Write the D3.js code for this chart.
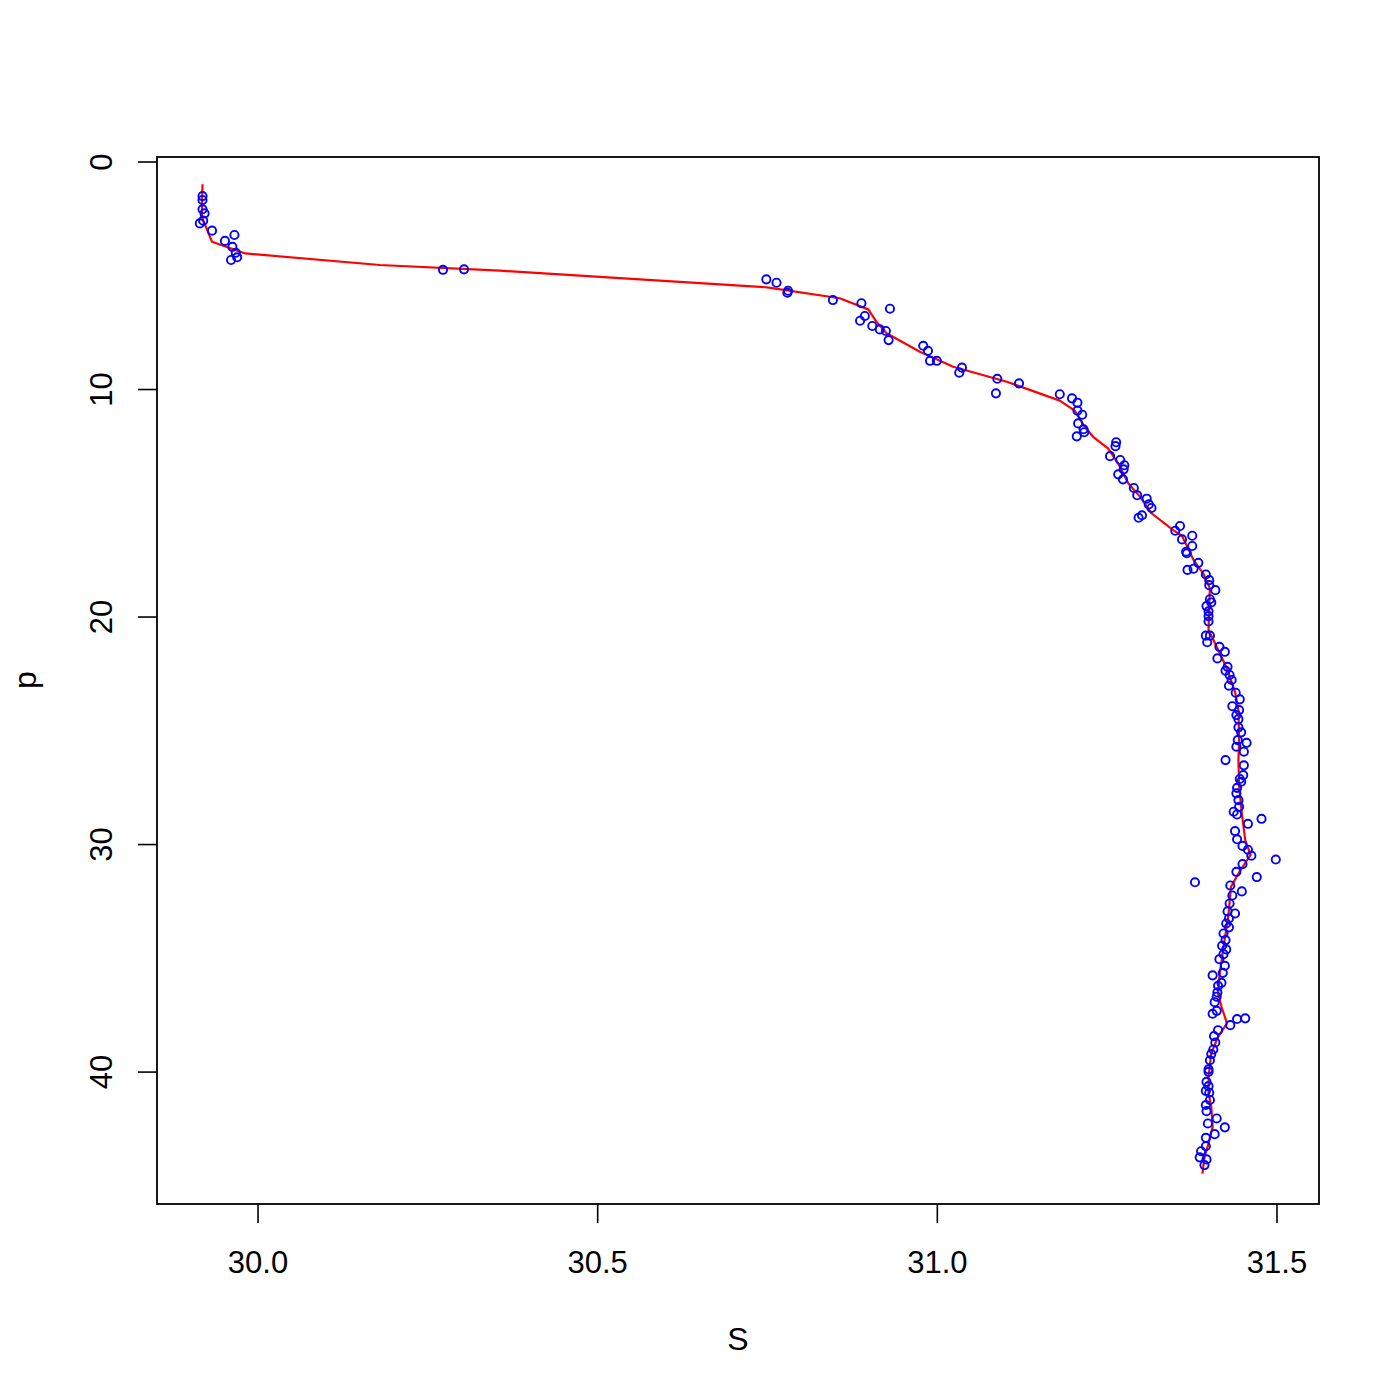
<!DOCTYPE html>
<html>
<head>
<meta charset="utf-8">
<script src="https://cdn.jsdelivr.net/npm/d3@7"></script>
<style>
  body { margin: 0; background: #fff; }
  svg { display: block; }
  text { font-family: "Liberation Sans", Arial, Helvetica, sans-serif; fill: #000; }
</style>
</head>
<body>
<svg id="chart" width="1400" height="1400"></svg>
<script>
// observed salinity (S) and pressure (p)
var obsS = [
    29.919, 29.919, 29.919, 29.922, 29.920, 29.915, 29.933, 29.966, 29.952, 29.963,
    29.968, 29.970, 29.961, 30.273, 30.304, 30.749, 30.764, 30.781, 30.780, 30.847,
    30.889, 30.931, 30.894, 30.887, 30.905, 30.916, 30.925, 30.929, 30.980, 30.987,
    30.990, 31.000, 31.037, 31.033, 31.089, 31.087, 31.121, 31.181, 31.199, 31.207,
    31.207, 31.214, 31.208, 31.216, 31.217, 31.206, 31.264, 31.263, 31.255, 31.270,
    31.276, 31.275, 31.267, 31.274, 31.290, 31.295, 31.309, 31.312, 31.316, 31.302,
    31.297, 31.358, 31.351, 31.376, 31.361, 31.376, 31.367, 31.368, 31.385, 31.378,
    31.369, 31.396, 31.401, 31.401, 31.410, 31.402, 31.404, 31.397, 31.400, 31.400,
    31.400, 31.396, 31.402, 31.398, 31.416, 31.424, 31.413, 31.428, 31.425, 31.431,
    31.434, 31.430, 31.440, 31.446, 31.435, 31.445, 31.441, 31.444, 31.444, 31.448,
    31.443, 31.456, 31.441, 31.452, 31.425, 31.452, 31.451, 31.446, 31.448, 31.442,
    31.441, 31.444, 31.445, 31.437, 31.442, 31.478, 31.458, 31.439, 31.442, 31.450,
    31.458, 31.463, 31.499, 31.450, 31.441, 31.471, 31.380, 31.432, 31.449, 31.435,
    31.431, 31.428, 31.439, 31.430, 31.426, 31.430, 31.422, 31.425, 31.420, 31.426,
    31.422, 31.416, 31.424, 31.421, 31.406, 31.419, 31.414, 31.413, 31.412, 31.409,
    31.412, 31.406, 31.442, 31.454, 31.432, 31.414, 31.408, 31.410, 31.407, 31.404,
    31.402, 31.400, 31.400, 31.397, 31.400, 31.396, 31.401, 31.402, 31.396, 31.397,
    31.412, 31.399, 31.424, 31.409, 31.396, 31.396, 31.389, 31.387, 31.397, 31.394
];
var obsP = [
     1.52,  1.69,  2.10,  2.28,  2.60,  2.72,  3.04,  3.23,  3.49,  3.75,
     4.01,  4.21,  4.33,  4.76,  4.74,  5.18,  5.33,  5.68,  5.77,  6.09,
     6.23,  6.47,  6.79,  7.00,  7.23,  7.38,  7.45,  7.85,  8.10,  8.32,
     8.76,  8.76,  9.06,  9.28,  9.55, 10.19,  9.75, 10.23, 10.41, 10.60,
    10.95, 11.13, 11.51, 11.77, 11.90, 12.08, 12.34, 12.51, 12.95, 13.12,
    13.35, 13.53, 13.75, 13.97, 14.35, 14.67, 14.82, 15.07, 15.23, 15.55,
    15.66, 16.02, 16.23, 16.45, 16.61, 16.90, 17.15, 17.22, 17.64, 17.90,
    17.95, 18.15, 18.40, 18.62, 18.84, 19.24, 19.38, 19.54, 19.77, 19.98,
    20.22, 20.84, 20.84, 21.13, 21.33, 21.55, 21.84, 22.21, 22.38, 22.57,
    22.79, 23.04, 23.35, 23.64, 23.94, 24.11, 24.33, 24.51, 24.87, 25.09,
    25.43, 25.55, 25.72, 25.94, 26.31, 26.54, 26.97, 27.14, 27.26, 27.53,
    27.77, 28.07, 28.36, 28.58, 28.70, 28.89, 29.11, 29.43, 29.79, 30.08,
    30.25, 30.51, 30.68, 30.88, 31.22, 31.45, 31.68, 31.82, 32.08, 32.26,
    32.61, 32.96, 33.05, 33.27, 33.49, 33.66, 33.93, 34.22, 34.47, 34.63,
    34.84, 35.06, 35.35, 35.66, 35.77, 36.10, 36.23, 36.52, 36.71, 36.95,
    37.33, 37.46, 37.69, 37.66, 37.96, 38.18, 38.44, 38.72, 39.03, 39.23,
    39.50, 39.90, 40.01, 40.45, 40.64, 40.85, 40.93, 41.25, 41.47, 41.74,
    42.06, 42.28, 42.45, 42.75, 42.91, 43.28, 43.50, 43.77, 43.86, 44.11
];

// smoothed profile
var fitS = [
    29.919, 29.918, 29.933, 29.982, 30.180, 30.357, 30.750, 30.857, 30.899, 30.911,
    30.926, 30.975, 31.024, 31.103, 31.181, 31.203, 31.216, 31.230, 31.252, 31.267,
    31.282, 31.299, 31.316, 31.348, 31.361, 31.378, 31.392, 31.402, 31.401, 31.400,
    31.412, 31.427, 31.439, 31.444, 31.445, 31.444, 31.445, 31.449, 31.454, 31.462,
    31.447, 31.433, 31.429, 31.422, 31.416, 31.414, 31.419, 31.424, 31.427, 31.414,
    31.404, 31.400, 31.400, 31.404, 31.406, 31.400, 31.394, 31.391
];
var fitP = [
     1.00,  2.43,  3.53,  4.04,  4.55,  4.80,  5.53,  6.01,  6.50,  7.04,
     7.55,  8.36,  9.02,  9.68, 10.51, 10.95, 11.58, 12.10, 12.61, 13.27,
    14.15, 14.73, 15.46, 16.20, 16.46, 17.52, 18.10, 18.76, 19.50, 20.59,
    21.33, 22.28, 23.31, 24.11, 25.43, 26.31, 27.48, 28.65, 29.83, 30.48,
    31.14, 31.88, 33.20, 34.52, 35.83, 36.56, 37.15, 37.59, 37.88, 38.47,
    39.20, 40.23, 40.96, 41.55, 42.43, 43.16, 43.75, 44.48
];

var xTicks = [30.0, 30.5, 31.0, 31.5];
var yTicks = [0, 10, 20, 30, 40];

var box = { left: 157, right: 1319, top: 157, bottom: 1204 },
    tickLen = 19;

var svg = d3.select('#chart');

var x = d3.scaleLinear().domain([29.852, 31.5626]).range([box.left, box.right]),
    y = d3.scaleLinear().domain([-0.198, 45.82]).range([box.top, box.bottom]);

// fitted line
var line = d3.line()
    .x(function(d) { return x(d[0]); })
    .y(function(d) { return y(d[1]); });

svg.append('path')
    .datum(d3.zip(fitS, fitP))
    .attr('d', line)
    .attr('fill', 'none')
    .attr('stroke', '#ff0000')
    .attr('stroke-width', 2.2)
    .attr('stroke-linejoin', 'round');

// observations
svg.append('g').selectAll('circle')
    .data(d3.zip(obsS, obsP))
    .enter().append('circle')
    .attr('cx', function(d) { return x(d[0]); })
    .attr('cy', function(d) { return y(d[1]); })
    .attr('r', 4.1)
    .attr('fill', 'none')
    .attr('stroke', '#0000ff')
    .attr('stroke-width', 1.9);

// x axis
var xAxis = d3.axisBottom(x)
    .tickValues(xTicks)
    .tickFormat(d3.format('.1f'))
    .tickSize(tickLen)
    .tickPadding(0);

var gx = svg.append('g')
    .attr('transform', 'translate(0,' + box.bottom + ')')
    .call(xAxis);
gx.select('.domain').remove();
gx.selectAll('line').attr('stroke', '#000').attr('stroke-width', 1.6);
gx.selectAll('text')
    .attr('y', 69)
    .attr('dy', 0)
    .style('font-size', '31px')
    .style('font-family', '"Liberation Sans", Arial, sans-serif');

// y axis
var yAxis = d3.axisLeft(y)
    .tickValues(yTicks)
    .tickSize(tickLen)
    .tickPadding(0);

var gy = svg.append('g')
    .attr('transform', 'translate(' + box.left + ',0)')
    .call(yAxis);
gy.select('.domain').remove();
gy.selectAll('line').attr('stroke', '#000').attr('stroke-width', 1.6);
gy.selectAll('text')
    .attr('x', null)
    .attr('dy', null)
    .attr('transform', 'translate(-45,0) rotate(-90)')
    .attr('text-anchor', 'middle')
    .style('font-size', '31px')
    .style('font-family', '"Liberation Sans", Arial, sans-serif');

// plot frame
svg.append('rect')
    .attr('x', box.left)
    .attr('y', box.top)
    .attr('width', box.right - box.left)
    .attr('height', box.bottom - box.top)
    .attr('fill', 'none')
    .attr('stroke', '#000')
    .attr('stroke-width', 1.8);

// axis titles
svg.append('text')
    .attr('x', 738)
    .attr('y', 1350)
    .attr('text-anchor', 'middle')
    .style('font-size', '32px')
    .text('S');

svg.append('text')
    .attr('transform', 'translate(36,680) rotate(-90)')
    .attr('text-anchor', 'middle')
    .style('font-size', '32px')
    .text('p');
</script>
</body>
</html>
